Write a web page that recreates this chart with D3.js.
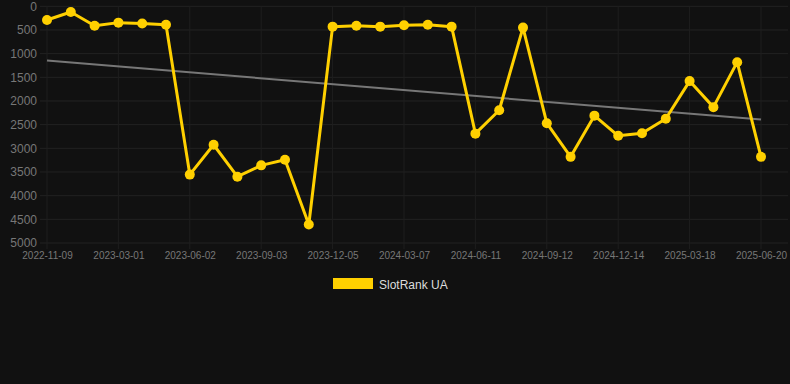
<!DOCTYPE html>
<html><head><meta charset="utf-8">
<script src="https://cdn.jsdelivr.net/npm/d3@7"></script>
<style>
html,body{margin:0;padding:0;background:#111111;}
svg{display:block;}
text{font-family:Arial,"Liberation Sans",sans-serif;}
</style></head>
<body>
<svg id="c" width="790" height="384"></svg>
<script>
const dates = ["2022-11-09","2022-12-16","2023-01-23","2023-03-01","2023-04-01","2023-05-02","2023-06-02","2023-07-03","2023-08-03","2023-09-03","2023-10-04","2023-11-04","2023-12-05","2024-01-05","2024-02-05","2024-03-07","2024-04-07","2024-05-09","2024-06-11","2024-07-13","2024-08-11","2024-09-12","2024-10-13","2024-11-13","2024-12-14","2025-01-14","2025-02-15","2025-03-18","2025-04-18","2025-05-19","2025-06-20"];
const ranks = [290,120,410,345,365,388,3555,2925,3600,3360,3240,4610,430,410,430,400,388,430,2690,2195,450,2470,3180,2310,2735,2680,2375,1580,2130,1180,3180];
const yTicks = [0,500,1000,1500,2000,2500,3000,3500,4000,4500,5000];
const seriesName = "SlotRank UA";

const svg = d3.select("#c");
const gold = "#ffd000";
const x = d3.scalePoint().domain(dates).range([47,761]);
const y = d3.scaleLinear().domain([0,5000]).range([6.3,243]);

// horizontal grid
svg.append("g").selectAll("line").data(yTicks).join("line")
  .attr("x1",40).attr("x2",788).attr("y1",d=>y(d)).attr("y2",d=>y(d))
  .attr("stroke","#222222").attr("stroke-width",1);
// vertical grid at labelled points
const labelled = dates.filter((d,i)=>i%3===0);
svg.append("g").selectAll("line").data(labelled).join("line")
  .attr("x1",d=>x(d)).attr("x2",d=>x(d)).attr("y1",6.3).attr("y2",249)
  .attr("stroke","#1e1e1e").attr("stroke-width",1);

// y axis
const yAx = svg.append("g").attr("transform","translate(37,0)")
  .call(d3.axisLeft(y).tickValues(yTicks).tickSize(0).tickPadding(0).tickFormat(d3.format("d")));
yAx.select(".domain").remove();
yAx.selectAll("text").attr("fill","#777").style("font-size","12px");

// x axis
const xAx = svg.append("g").attr("transform","translate(0,252)")
  .call(d3.axisBottom(x).tickValues(labelled).tickSize(0).tickPadding(0));
xAx.select(".domain").remove();
xAx.selectAll("text").attr("fill","#777").style("font-size","10px").attr("dy","0.71em");

// trend line (least squares)
const n = ranks.length;
const idx = d3.range(n);
const mx = d3.mean(idx), my = d3.mean(ranks);
const slope = d3.sum(idx,i=>(i-mx)*(ranks[i]-my))/d3.sum(idx,i=>(i-mx)*(i-mx));
const icpt = my - slope*mx;
svg.append("line")
  .attr("x1",x(dates[0])).attr("y1",y(icpt))
  .attr("x2",x(dates[n-1])).attr("y2",y(icpt+slope*(n-1)))
  .attr("stroke","#777").attr("stroke-width",2);

// series line
svg.append("path").datum(ranks)
  .attr("d",d3.line().x((d,i)=>x(dates[i])).y(d=>y(d)))
  .attr("fill","none").attr("stroke",gold).attr("stroke-width",3).attr("stroke-linejoin","round");
svg.append("g").selectAll("circle").data(ranks).join("circle")
  .attr("cx",(d,i)=>x(dates[i])).attr("cy",d=>y(d)).attr("r",5).attr("fill",gold);

// legend
svg.append("rect").attr("x",333).attr("y",278).attr("width",40).attr("height",11).attr("fill",gold);
svg.append("text").attr("x",379).attr("y",288.5).attr("fill","#ddd").style("font-size","12px").text(seriesName);
</script>
</body></html>
